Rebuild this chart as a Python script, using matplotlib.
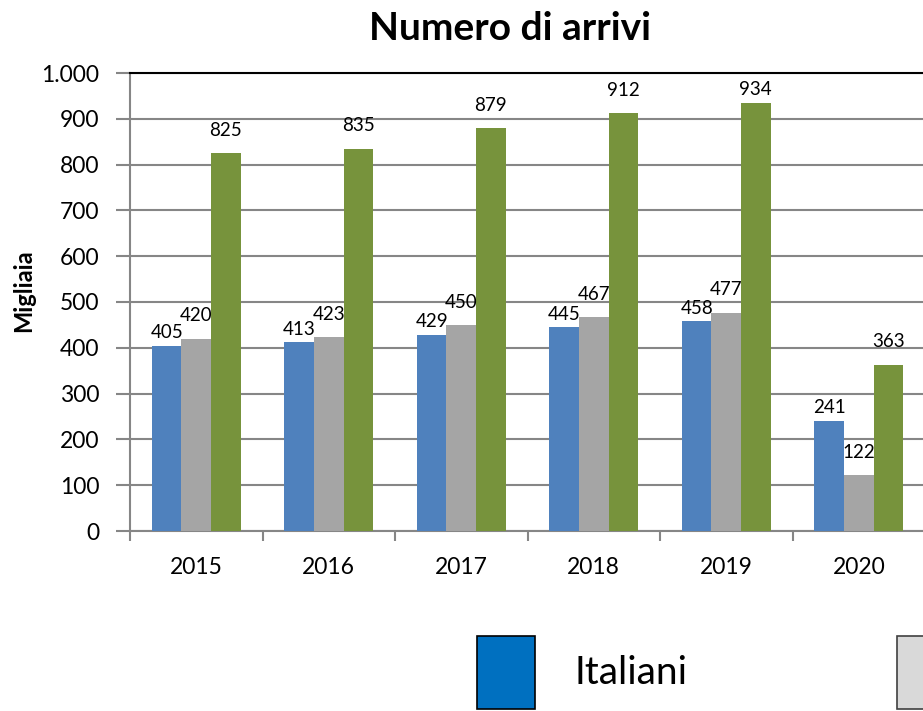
import matplotlib.pyplot as plt
import numpy as np
from matplotlib.patches import Patch
from matplotlib.ticker import FuncFormatter, MultipleLocator, FixedLocator

plt.rcParams['font.family'] = ['Lato', 'DejaVu Sans']

# Data (migliaia)
anni = ['2015', '2016', '2017', '2018', '2019', '2020']
italiani = [405, 413, 429, 445, 458, 241]
stranieri = [420, 423, 450, 467, 477, 122]
totale = [825, 835, 879, 912, 934, 363]

# name, values, colour, label gap above the bar (in y units)
series = [
    ('Italiani', italiani, '#4F81BD', 28),
    ('Stranieri', stranieri, '#A5A5A5', 50),
    ('Totale', totale, '#77933C', 50),
]
label_max = 963  # labels are kept inside the plot area

fig = plt.figure(figsize=(9.23, 7.11), dpi=100)
ax = fig.add_axes([130 / 923, 1 - 531 / 711, 795 / 923, 458 / 711])

x = np.arange(len(anni))
w = 0.223
for i, (name, vals, color, gap) in enumerate(series):
    pos = x + (i - 1) * w
    bars = ax.bar(pos, vals, width=w, color=color, zorder=3)
    for b, v in zip(bars, vals):
        ax.text(b.get_x() + b.get_width() / 2, min(v + gap, label_max), str(v),
                ha='center', va='center', fontsize=13.5, zorder=4)

ax.set_xlim(-0.5, len(anni) - 0.5)
ax.set_ylim(0, 1000)
ax.yaxis.set_major_locator(MultipleLocator(100))
ax.yaxis.set_major_formatter(FuncFormatter(lambda v, p: f"{int(v):,}".replace(",", ".")))
ax.grid(axis='y', color='#868686', linewidth=1.5, zorder=0)

ax.set_xticks(x)
ax.set_xticklabels(anni)
ax.xaxis.set_minor_locator(FixedLocator(np.arange(-0.5, len(anni), 1)))
ax.tick_params(axis='x', which='major', length=0, pad=19, labelsize=16.5)
ax.tick_params(axis='x', which='minor', length=7, width=1.5, color='#868686')
ax.tick_params(axis='y', length=10, width=1.5, color='#868686', labelsize=16.5, pad=12)

for s in ['left', 'bottom']:
    ax.spines[s].set_color('#868686')
    ax.spines[s].set_linewidth(1.5)
ax.spines['top'].set_color('black')
ax.spines['top'].set_linewidth(1.5)
ax.spines['right'].set_visible(False)

fig.text(24 / 923, 1 - 291 / 711, 'Migliaia', rotation=90, ha='center', va='center',
         fontsize=17, fontweight='bold')
fig.text(510 / 923, 1 - 40 / 711, 'Numero di arrivi', ha='center', va='baseline',
         fontsize=28, fontweight='bold')

handles = [
    Patch(facecolor='#0070C0', edgecolor='black', linewidth=1.2),
    Patch(facecolor='#D9D9D9', edgecolor='#404040', linewidth=1.2),
    Patch(facecolor='#77933C', edgecolor='black', linewidth=1.2),
]
fig.legend(handles, ['Italiani', 'Stranieri', 'Totale'], loc='upper left',
           bbox_to_anchor=(477 / 923, 1 - 636 / 711), ncol=3, frameon=False,
           fontsize=28, handlelength=1.5, handleheight=2.5, handletextpad=1.0,
           columnspacing=5.4, borderpad=0, borderaxespad=0)

fig.savefig('out.png', dpi=100)
